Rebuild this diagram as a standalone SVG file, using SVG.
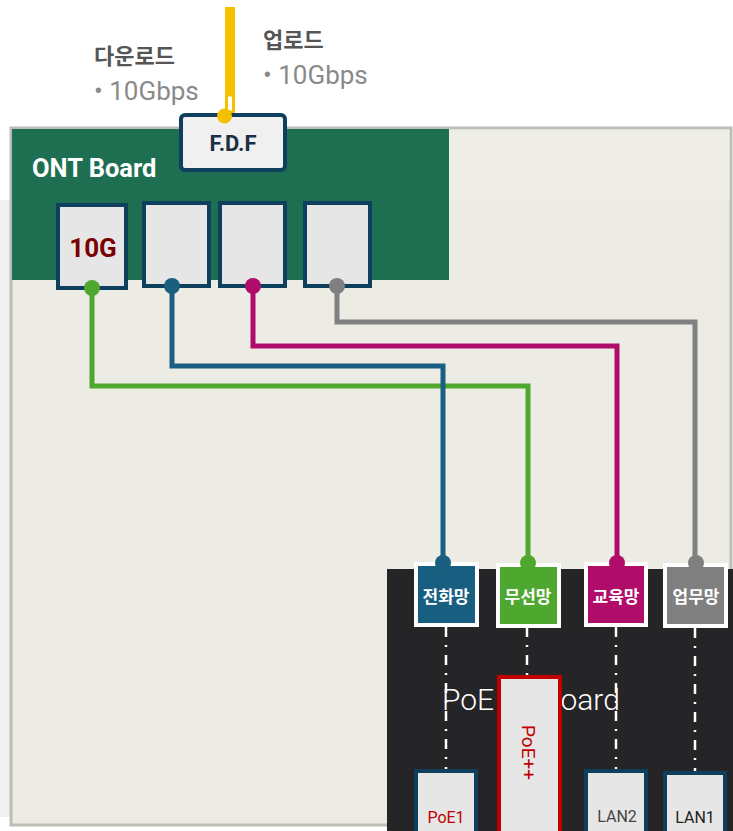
<svg xmlns="http://www.w3.org/2000/svg" width="733" height="831" viewBox="0 0 733 831">
<defs>
<style>
.t{font-family:Roboto,"Noto Sans CJK KR","Noto Sans",sans-serif}
.port{fill:#e6e6e6;stroke:#0e405e;stroke-width:4}
.lbl{stroke:#ffffff;stroke-width:4}
.lt{font-family:Roboto,"Noto Sans CJK KR",sans-serif;font-size:17px;font-weight:bold;fill:#ffffff;text-anchor:middle}
.conn{fill:none;stroke-width:5;stroke-linejoin:miter}
.dash{fill:none;stroke:#ffffff;stroke-width:2.5;stroke-dasharray:10 8 2 8}
</style>
</defs>
<rect x="0" y="0" width="733" height="831" fill="#ffffff"/>
<rect x="0" y="200" width="12" height="617" fill="#f0f0f0"/>
<g id="panel">
<rect x="11" y="128" width="720" height="697" fill="#ecebe4" stroke="#bdbdb7" stroke-width="3"/>
<rect x="12.5" y="129.5" width="717" height="71" fill="#eeede6"/>
</g>
<g id="ont-board">
<rect x="12" y="129" width="437" height="151" fill="#1e6f52"/>
<text class="t" x="32" y="177" font-size="25.5" font-weight="bold" fill="#ffffff">ONT Board</text>
</g>
<g id="uplink">
<rect x="225" y="7" width="10" height="89" fill="#f5c000"/>
<rect x="226.5" y="95" width="7" height="17" fill="#ffffff" stroke="#f5c000" stroke-width="3"/>
</g>
<g id="labels">
<text class="t" x="94" y="64" font-size="22" font-weight="bold" fill="#555555">다운로드</text>
<text class="t" x="94" y="100" font-size="26" fill="#8a8a8a">• 10Gbps</text>
<text class="t" x="263" y="48" font-size="22" font-weight="bold" fill="#555555">업로드</text>
<text class="t" x="263" y="84" font-size="26" fill="#8a8a8a">• 10Gbps</text>
</g>
<g id="fdf">
<rect x="181" y="115" width="104" height="55" rx="4" fill="#f0f0f0" stroke="#0e405e" stroke-width="4"/>
<text class="t" x="233" y="151" font-size="22" font-weight="bold" fill="#1b2f45" text-anchor="middle">F.D.F</text>
<circle cx="224.5" cy="116" r="7.5" fill="#f5c000"/>
</g>
<g id="ont-port-10g">
<rect class="port" x="58" y="205" width="68" height="83"/>
<text class="t" x="93" y="257" font-size="26" font-weight="bold" fill="#7b0000" text-anchor="middle">10G</text>
</g>
<g id="ont-port-2"><rect class="port" x="144" y="203" width="65" height="83"/></g>
<g id="ont-port-3"><rect class="port" x="220" y="203" width="65" height="83"/></g>
<g id="ont-port-4"><rect class="port" x="305" y="203" width="65" height="83"/></g>
<g id="poe-board">
<rect x="387" y="569" width="346" height="262" fill="#252427"/>
<text class="t" font-size="30" font-weight="300" fill="#ffffff"><tspan x="442" y="710">PoE</tspan> <tspan x="542" y="710">Board</tspan></text>
</g>
<g id="connectors">
<polyline class="conn" stroke="#4ea72e" points="92,288 92,386 528,386 528,562"/>
<polyline class="conn" stroke="#1a5e80" points="172,286 172,366 443,366 443,562"/>
<polyline class="conn" stroke="#b00d6a" points="253,286 253,346 617,346 617,562"/>
<polyline class="conn" stroke="#808080" points="337,286 337,322 695,322 695,562"/>
<circle cx="92" cy="288" r="8" fill="#4ea72e"/>
<circle cx="172" cy="286" r="8" fill="#1a5e80"/>
<circle cx="253" cy="286" r="8" fill="#b00d6a"/>
<circle cx="337" cy="286" r="8" fill="#808080"/>
<line class="dash" x1="446" y1="627" x2="446" y2="770"/>
<line class="dash" x1="527" y1="627" x2="527" y2="676"/>
<line class="dash" x1="616" y1="627" x2="616" y2="770"/>
<line class="dash" x1="695" y1="628" x2="695" y2="772"/>
</g>
<g id="net-phone">
<rect class="lbl" x="416" y="564" width="61" height="61" fill="#175e80"/>
<circle cx="443" cy="563" r="8" fill="#1a5e80"/>
<text class="lt" x="446" y="603">전화망</text>
</g>
<g id="net-wireless">
<rect class="lbl" x="498" y="565" width="61" height="61" fill="#4ea72e"/>
<circle cx="528" cy="563" r="8" fill="#4ea72e"/>
<text class="lt" x="528" y="603">무선망</text>
</g>
<g id="net-edu">
<rect class="lbl" x="586" y="564" width="60" height="61" fill="#b00d6a"/>
<circle cx="617" cy="563" r="8" fill="#b00d6a"/>
<text class="lt" x="616" y="603">교육망</text>
</g>
<g id="net-work">
<rect class="lbl" x="665" y="565" width="61" height="61" fill="#808080"/>
<circle cx="696" cy="563" r="8" fill="#808080"/>
<text class="lt" x="696" y="603">업무망</text>
</g>
<g id="port-poe1">
<rect class="port" x="416" y="771" width="60" height="70"/>
<text class="t" x="446" y="823" font-size="16" fill="#c00000" text-anchor="middle">PoE1</text>
</g>
<g id="port-poepp">
<rect x="499" y="677" width="61" height="164" fill="#e6e6e6" stroke="#c00000" stroke-width="4"/>
<text class="t" x="0" y="0" font-size="19" fill="#c00000" transform="translate(522,725) rotate(90)">PoE++</text>
</g>
<g id="port-lan2">
<rect class="port" x="586" y="771" width="60" height="70"/>
<text class="t" x="617" y="822" font-size="16" fill="#444444" text-anchor="middle">LAN2</text>
</g>
<g id="port-lan1">
<rect class="port" x="665" y="773" width="60" height="70"/>
<text class="t" x="695" y="823" font-size="16" fill="#222222" text-anchor="middle">LAN1</text>
</g>
</svg>
